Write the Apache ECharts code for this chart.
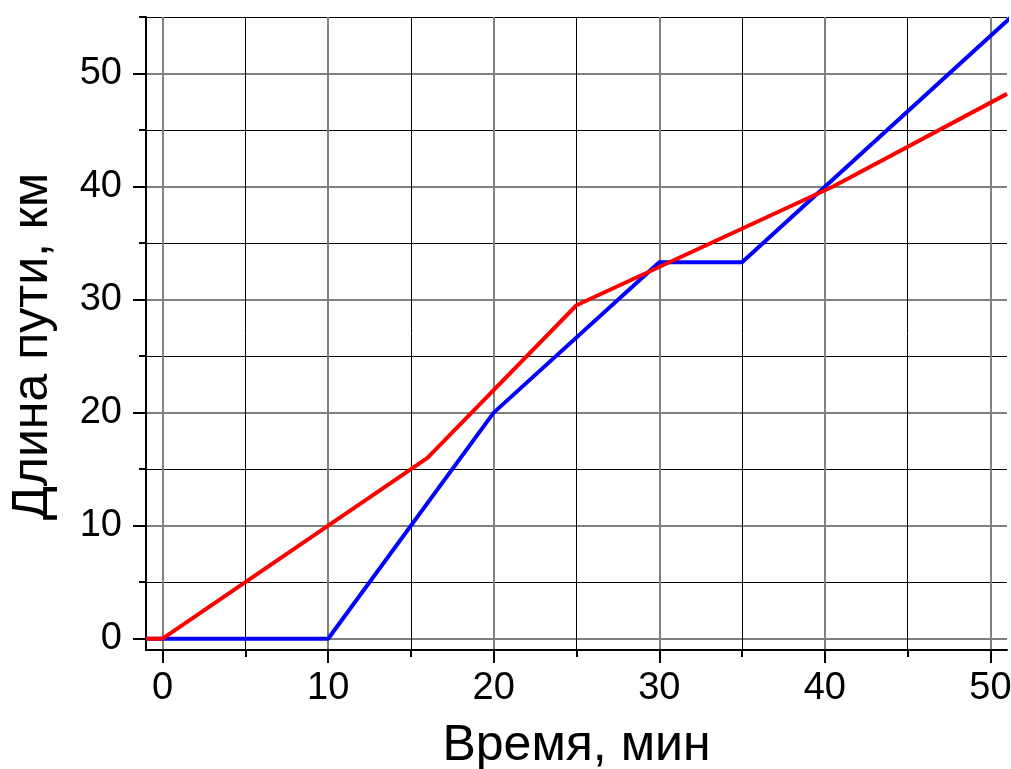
<!DOCTYPE html>
<html><head><meta charset="utf-8">
<script src="https://cdn.jsdelivr.net/npm/echarts@6/dist/echarts.min.js"></script>
<style>html,body{margin:0;padding:0;background:#fff}#c{width:1011px;height:769px}</style>
</head><body><div id="c"></div>
<script>
// Data
const blueX = [-1, 0, 10, 20, 30, 35, 55];
const blueY = [0, 0, 0, 20, 33.3, 33.3, 60];
const redX = [-1, 0, 16, 25, 40.5, 51];
const redY = [0, 0, 16, 29.5, 40, 48.2];
const xMajorTicks = [0, 10, 20, 30, 40, 50];
const xMinorTicks = [5, 15, 25, 35, 45];
const yMajorTicks = [0, 10, 20, 30, 40, 50];
const yMinorTicks = [5, 15, 25, 35, 45, 55];
const xTitle = 'Время, мин';
const yTitle = 'Длина пути, км';

const FONT = 'Liberation Sans, Arial, sans-serif';
const toPairs = (xs, ys) => xs.map((x, i) => [x, ys[i]]);

const chart = echarts.init(document.getElementById('c'), null, {renderer: 'canvas'});
const common = {type: 'value', gridIndex: 0};
chart.setOption({
  animation: false,
  backgroundColor: '#fff',
  grid: {left: 146, right: 4, top: 17, bottom: 119, containLabel: false, outerBoundsMode: 'none'},
  xAxis: [
    Object.assign({}, common, {
      min: -1, max: 51, position: 'bottom',
      axisLine: {show: true, onZero: false, lineStyle: {color: '#000', width: 2}},
      axisTick: {show: true, customValues: xMajorTicks, length: 13, inside: false, lineStyle: {color: '#000', width: 2}},
      axisLabel: {show: true, customValues: xMajorTicks, fontSize: 38, color: '#000', fontFamily: FONT, margin: 20},
      splitLine: {show: true, lineStyle: {color: '#808080', width: 2}},
      name: xTitle, nameLocation: 'middle', nameGap: 71,
      nameTextStyle: {fontSize: 50, color: '#000', fontFamily: FONT}
    }),
    Object.assign({}, common, {
      min: -1, max: 51, position: 'bottom',
      axisLine: {show: false, onZero: false},
      axisTick: {show: true, customValues: xMinorTicks, length: 7, lineStyle: {color: '#000', width: 2}},
      axisLabel: {show: false},
      splitLine: {show: true, lineStyle: {color: '#000', width: 1}}
    })
  ],
  yAxis: [
    Object.assign({}, common, {
      min: -1, max: 55, position: 'left',
      axisLine: {show: true, onZero: false, lineStyle: {color: '#000', width: 2}},
      axisTick: {show: true, customValues: yMajorTicks, length: 13, lineStyle: {color: '#000', width: 2}},
      axisLabel: {show: true, customValues: yMajorTicks, fontSize: 38, color: '#000', fontFamily: FONT, margin: 24},
      splitLine: {show: true, lineStyle: {color: '#808080', width: 2}},
      name: yTitle, nameLocation: 'middle', nameGap: 88,
      nameTextStyle: {fontSize: 50, color: '#000', fontFamily: FONT, padding: [0, 26, 0, 0]}
    }),
    Object.assign({}, common, {
      min: -1, max: 55, position: 'left',
      axisLine: {show: false, onZero: false},
      axisTick: {show: true, customValues: yMinorTicks, length: 7, lineStyle: {color: '#000', width: 2}},
      axisLabel: {show: false},
      splitLine: {show: true, lineStyle: {color: '#000', width: 1}}
    })
  ],
  series: [
    {type: 'line', name: 'blue', xAxisIndex: 0, yAxisIndex: 0, data: toPairs(blueX, blueY),
     showSymbol: false, symbol: 'none', clip: true, lineStyle: {color: '#0000ff', width: 4}, z: 3},
    {type: 'line', name: 'red', xAxisIndex: 0, yAxisIndex: 0, data: toPairs(redX, redY),
     showSymbol: false, symbol: 'none', clip: true, lineStyle: {color: '#ff0000', width: 4}, z: 4}
  ]
});
</script>
</body></html>
